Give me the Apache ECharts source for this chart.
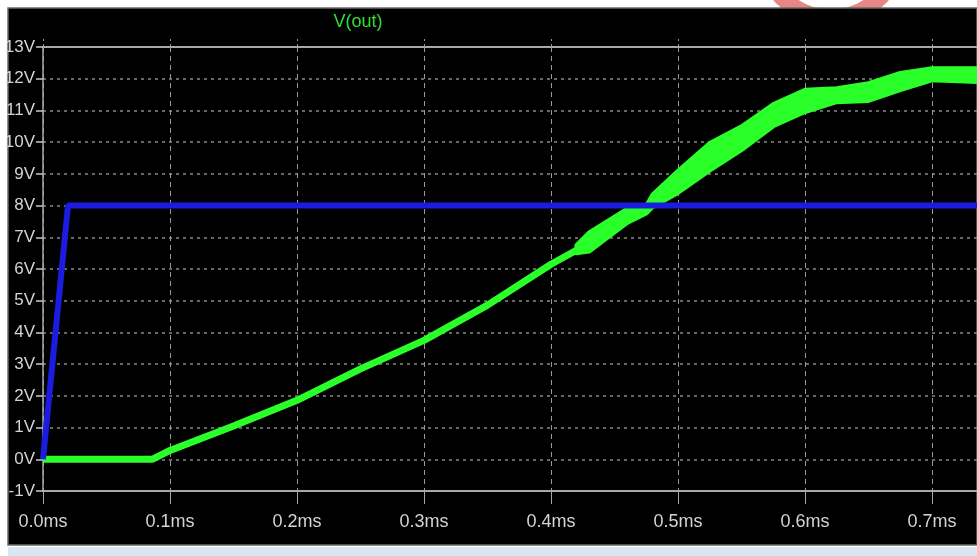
<!DOCTYPE html>
<html>
<head>
<meta charset="utf-8">
<script src="https://cdn.jsdelivr.net/npm/echarts@6/dist/echarts.min.js"></script>
<style>
  html, body { margin: 0; padding: 0; background: #fff; }
  #main { width: 977px; height: 556px; }
</style>
</head>
<body>
<div id="main"></div>
<script>
// V(out) thin part of the trace (time in ms, volts)
const outTime = [0, 0.086, 0.1, 0.15, 0.2, 0.25, 0.3, 0.35, 0.4, 0.425];
const outVolt = [0, 0, 0.28, 1.05, 1.86, 2.85, 3.75, 4.86, 6.15, 6.7];

// V(out) where the ripple makes the trace thick: lower and upper edge
const bandTime = [0.42, 0.43, 0.46, 0.475, 0.48, 0.5, 0.525, 0.55, 0.575, 0.6, 0.625, 0.65, 0.675, 0.7, 0.7354];
const bandLow  = [6.5, 6.55, 7.45, 7.75, 7.95, 8.4, 9.1, 9.75, 10.5, 10.95, 11.26, 11.3, 11.64, 11.95, 11.9];
const bandHigh = [6.75, 7.15, 7.9, 8.0, 8.35, 9.1, 9.97, 10.5, 11.2, 11.65, 11.7, 11.86, 12.18, 12.33, 12.33];

// the blue ramp to 8V
const inTime = [0, 0.0197, 0.7354];
const inVolt = [0, 8, 8];

const xMin = 0, xMax = 0.7354, xStep = 0.1;
const yMin = -1, yMax = 13, yStep = 1;

const font = '"Liberation Sans", Arial, sans-serif';

var chart = echarts.init(document.getElementById('main'));

function pairs(xs, ys) {
  return xs.map(function (x, i) { return [x, ys[i]]; });
}

// envelope polygon: along the top edge, then back along the bottom edge
function renderBand(params, api) {
  var pts = [];
  for (var i = 0; i < bandTime.length; i++) pts.push(api.coord([bandTime[i], bandHigh[i]]));
  for (var j = bandTime.length - 1; j >= 0; j--) pts.push(api.coord([bandTime[j], bandLow[j]]));
  return {
    type: 'polygon',
    shape: { points: pts },
    style: { fill: '#2aff2a', stroke: '#2aff2a', lineWidth: 4, lineJoin: 'round' }
  };
}

var option = {
  backgroundColor: '#fff',
  animation: false,
  graphic: [
    // red ring peeking in at the top
    { type: 'circle', z: -20, shape: { cx: 831, cy: -50, r: 68 },
      style: { fill: 'none', stroke: '#e88585', lineWidth: 17 } },
    // black frame
    { type: 'rect', z: -10, shape: { x: 8, y: 8, width: 969, height: 537 },
      style: { fill: '#000', stroke: '#6a6a6a', lineWidth: 1.5 } },
    // light blue strip at the bottom
    { type: 'rect', z: -10, shape: { x: 8, y: 547, width: 969, height: 9 },
      style: { fill: '#d9e7f2' } },
    { type: 'text', z: 10, x: 358, y: 22,
      style: { text: 'V(out)', fill: '#33dd33', fontFamily: font, fontSize: 18,
               align: 'center', verticalAlign: 'middle' } }
  ],
  grid: { left: 43, top: 47, right: 0, bottom: 65, containLabel: false },
  xAxis: [
    {
      type: 'value', min: xMin, max: xMax, interval: xStep,
      position: 'bottom',
      axisLine: { show: true, onZero: false, lineStyle: { color: '#a8a8a8', width: 2 } },
      axisTick: { show: true, length: 13, lineStyle: { color: '#a8a8a8', width: 1 } },
      axisLabel: {
        color: '#d4d4d4', fontFamily: font, fontSize: 18, margin: 22,
        showMaxLabel: false,
        formatter: function (v) {
          var k = Math.round(v / xStep);
          if (Math.abs(v - k * xStep) > 1e-6) return '';
          return (k * xStep).toFixed(1) + 'ms';
        }
      },
      splitLine: { show: true, lineStyle: { color: '#9a9a9a', type: [5, 4], width: 1 } }
    },
    {
      type: 'value', min: xMin, max: xMax, interval: xStep,
      position: 'top',
      axisLine: { show: true, onZero: false, lineStyle: { color: '#a8a8a8', width: 2 } },
      axisTick: { show: true, length: 8, lineStyle: { color: '#9a9a9a', type: [3, 3] } },
      axisLabel: { show: false },
      splitLine: { show: false }
    }
  ],
  yAxis: {
    type: 'value', min: yMin, max: yMax, interval: yStep,
    axisLine: { show: true, lineStyle: { color: '#a8a8a8', width: 1.5 } },
    axisTick: { show: true, length: 7, lineStyle: { color: '#c8c8c8', width: 1.5 } },
    axisLabel: {
      color: '#d4d4d4', fontFamily: font, fontSize: 17, margin: 8,
      formatter: function (v) { return v + 'V'; }
    },
    splitLine: { show: true, lineStyle: { color: '#8a8a8a', type: [3, 4], width: 1.5 } }
  },
  series: [
    {
      name: 'V(out)', type: 'line', data: pairs(outTime, outVolt),
      symbol: 'none', z: 3,
      lineStyle: { color: '#2aff2a', width: 7 }
    },
    {
      name: 'ripple', type: 'custom', renderItem: renderBand,
      data: [[bandTime[0], bandLow[0]]], z: 3, clip: true
    },
    {
      name: 'V(in)', type: 'line', data: pairs(inTime, inVolt),
      symbol: 'none', z: 4,
      lineStyle: { color: '#1c1ce0', width: 6 }
    }
  ]
};

chart.setOption(option);
</script>
</body>
</html>
